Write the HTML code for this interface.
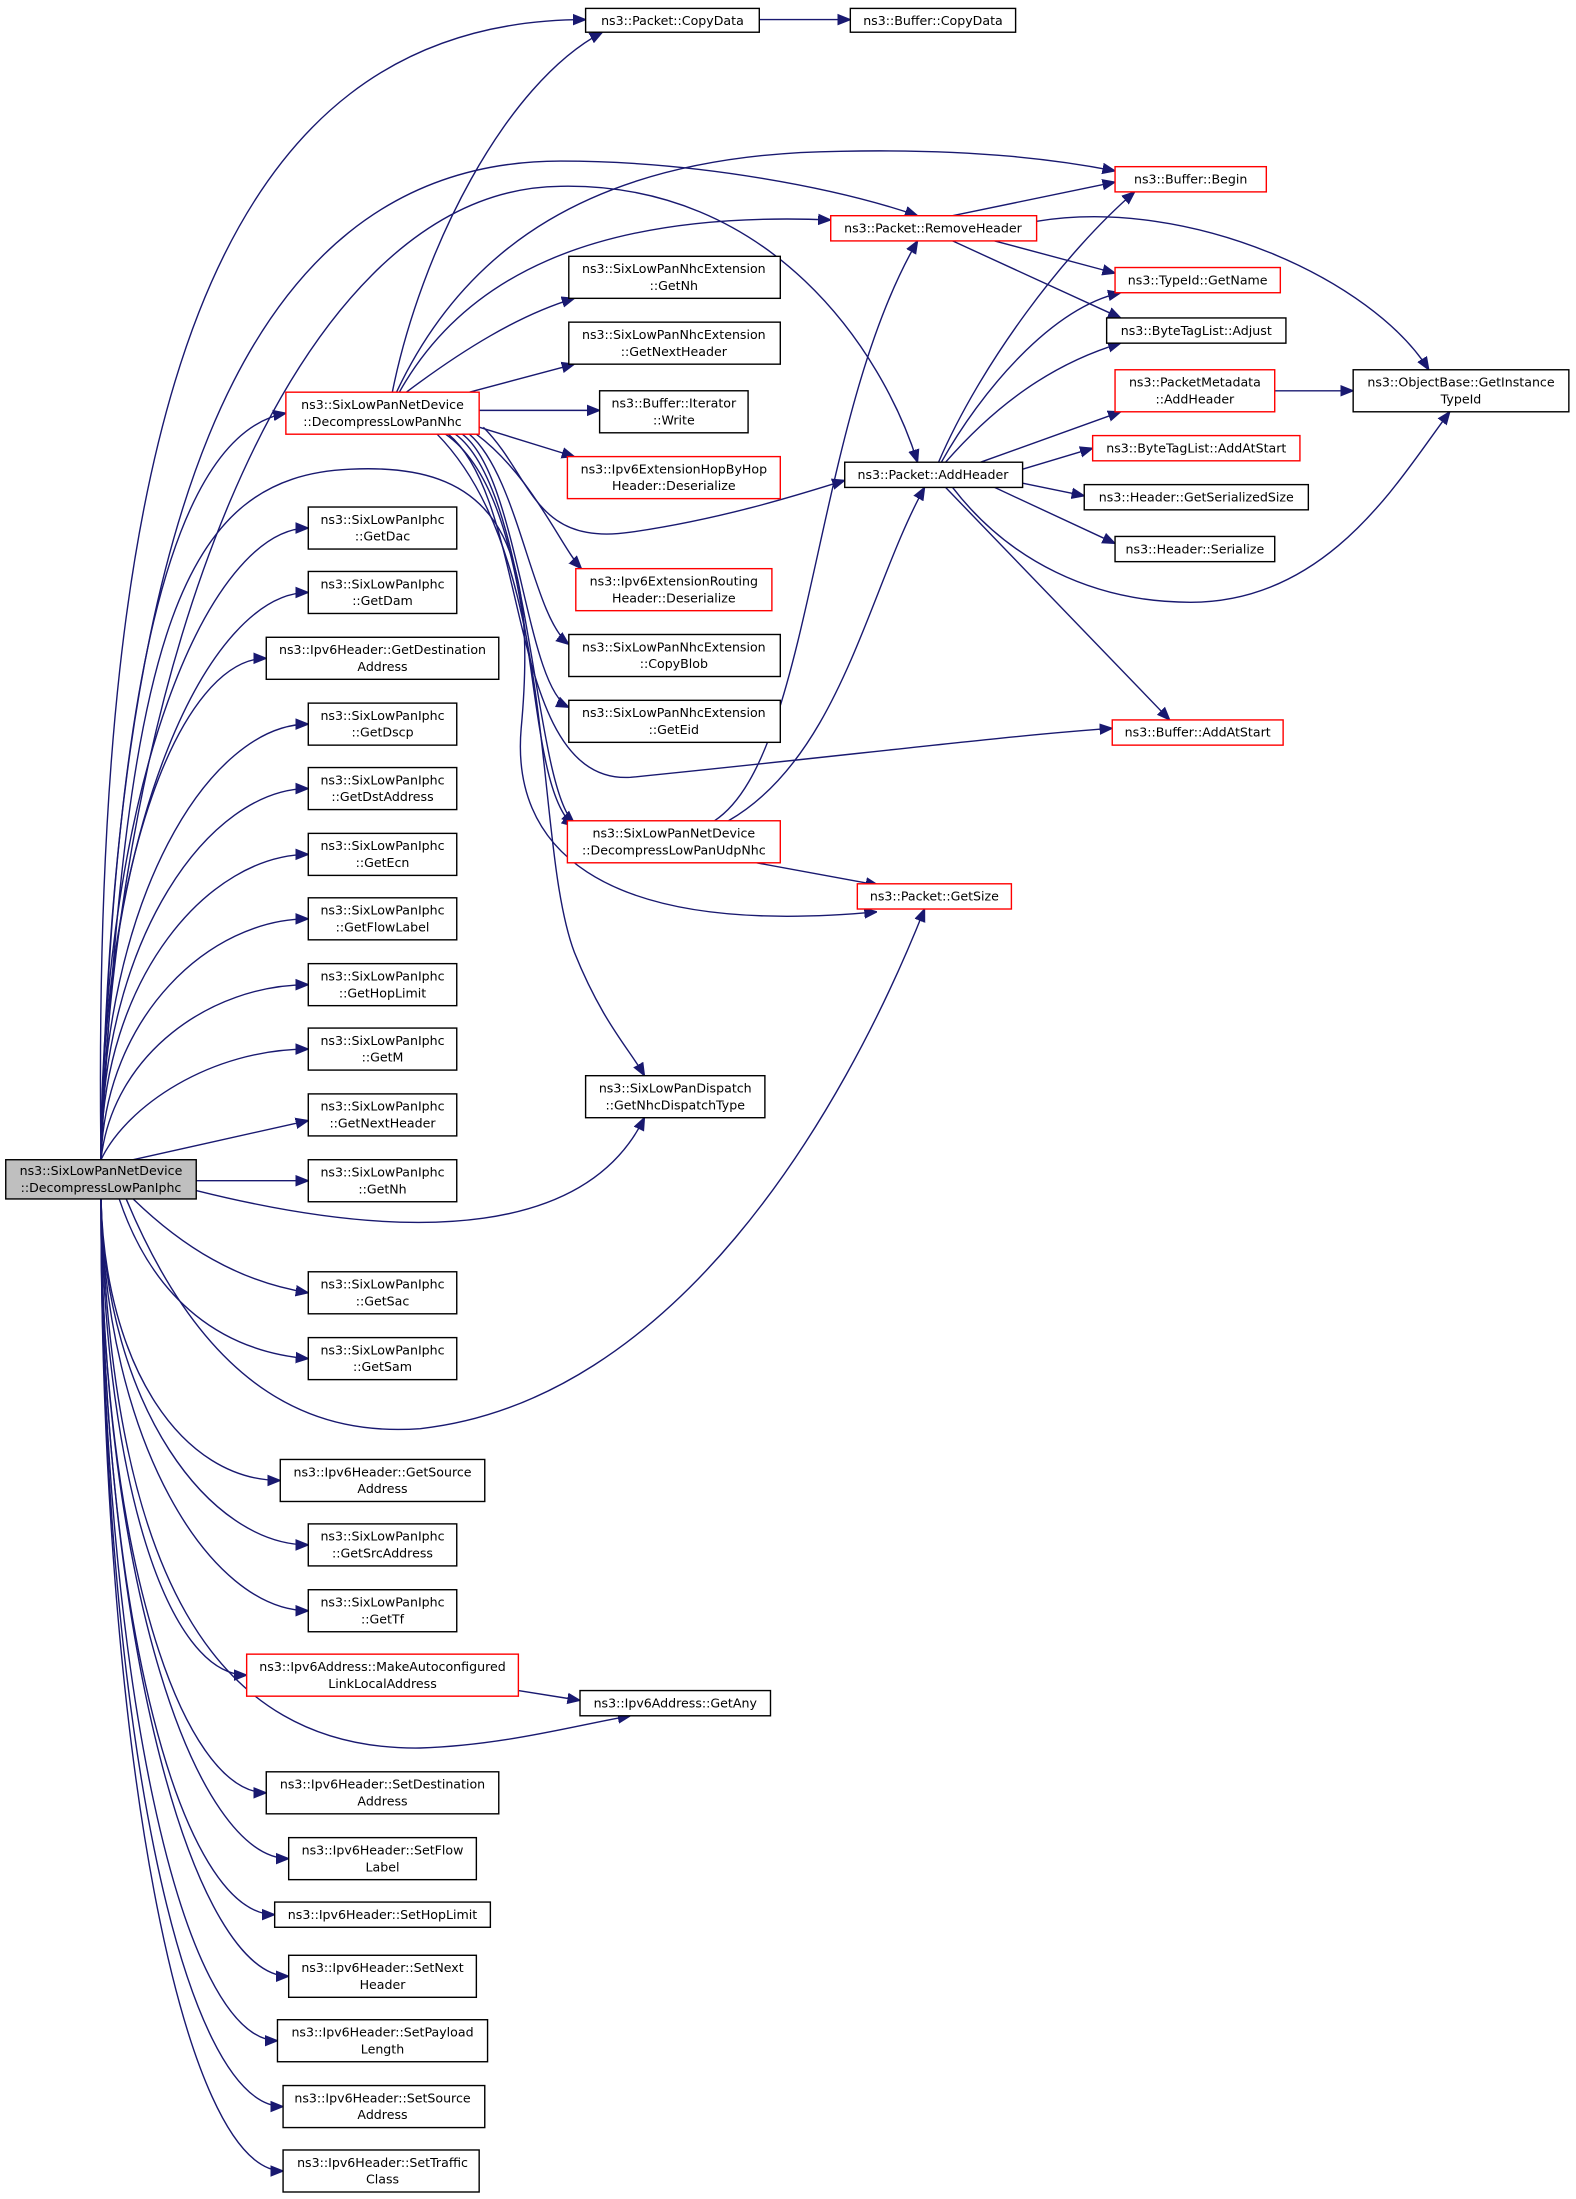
<!DOCTYPE html>
<html><head><meta charset="utf-8"><style>
html,body{margin:0;padding:0;background:#fff}
svg{display:block}
text{font-family:"DejaVu Sans","Liberation Sans",sans-serif;font-size:9px;fill:#000;text-anchor:middle}
.b{fill:#fff;stroke:#000;stroke-width:1}
.r{fill:#fff;stroke:#ff0000;stroke-width:1}
.g{fill:#bfbfbf;stroke:#000;stroke-width:1}
path{fill:none;stroke:#191970;stroke-width:1}
</style></head><body>
<svg width="1576" height="2199" viewBox="0 0 1125 1570" xmlns="http://www.w3.org/2000/svg">
<defs><marker id="a" viewBox="0 0 10 10" refX="10" refY="5" markerWidth="9" markerHeight="9" markerUnits="userSpaceOnUse" orient="auto"><path d="M0,1 L10,5 L0,9 z" style="fill:#191970;stroke:#191970"/></marker></defs>
<g marker-end="url(#a)">
<!-- main edges -->
<path d="M72,828 C65,300 150,14 418,14"/>
<path d="M72,828 C80,400 160,115 400,115 C500,115 600,135 655,154"/>
<path d="M72,828 C80,500 200,135 400,133 C550,130 630,250 655,330"/>
<path d="M72,828 C80,500 120,310 204,295"/>
<path d="M72,828 C90,450 130,340 250,335 C350,330 385,380 372,520 C365,600 420,670 626,651"/>
<path d="M140,850 C300,890 420,880 460,798"/>
<path d="M90,856 C150,1000 230,1025 300,1020 C480,1000 600,800 660,649"/>
<path d="M72,828 C72,557 150,377 220,377"/>
<path d="M72,828 C72,585 150,423 220,423"/>
<path d="M72,828 C72,613 130,470 190,470"/>
<path d="M72,828 C72,641 150,517 220,517"/>
<path d="M72,828 C72,669 150,563 220,563"/>
<path d="M72,828 C72,697 150,610 220,610"/>
<path d="M72,828 C75,725 150,656 220,656"/>
<path d="M72,828 C80,753 150,703 220,703"/>
<path d="M72,828 C90,790 150,749 220,749"/>
<path d="M95,828 L220,800"/>
<path d="M140,843 L220,843"/>
<path d="M95,856 C130,890 170,915 220,923"/>
<path d="M85,856 C110,930 160,965 220,970"/>
<path d="M72,856 C75,976 130,1057 200,1057"/>
<path d="M72,856 C75,1005 150,1103 220,1103"/>
<path d="M72,856 C75,1030 150,1150 220,1150"/>
<path d="M72,856 C75,1060 120,1196 176,1196"/>
<path d="M72,856 C80,1120 150,1250 300,1248 C360,1246 410,1232 450,1225"/>
<path d="M72,856 C72,1110 130,1280 190,1280"/>
<path d="M72,856 C72,1130 140,1327 206,1327"/>
<path d="M72,856 C72,1160 130,1367 196,1367"/>
<path d="M72,856 C72,1180 140,1411 206,1411"/>
<path d="M72,856 C72,1200 130,1457 198,1457"/>
<path d="M72,856 C72,1230 130,1504 202,1504"/>
<path d="M72,856 C72,1250 130,1550 202,1550"/>
<path d="M370,1207 L414,1214"/>
<!-- DecompressLowPanNhc edges -->
<path d="M280,280 C300,180 360,60 430,23"/>
<path d="M285,280 C330,200 420,150 593,157"/>
<path d="M283,280 C330,180 420,110 600,108 C700,106 760,115 796,122"/>
<path d="M290,280 C330,250 370,225 410,213"/>
<path d="M335,280 L410,260"/>
<path d="M342,293 L428,293"/>
<path d="M342,305 L410,326"/>
<path d="M340,310 C380,340 400,390 415,406"/>
<path d="M335,310 C370,340 380,440 406,460"/>
<path d="M330,310 C370,340 375,490 406,505"/>
<path d="M325,310 C380,350 380,560 410,588"/>
<path d="M318,310 C390,360 370,560 410,590"/>
<path d="M345,305 C380,340 380,390 450,380 C520,370 580,350 603,343"/>
<path d="M320,310 C380,360 360,560 450,555 C600,540 720,525 794,520"/>
<path d="M312,310 C400,400 380,600 410,680 C430,730 450,750 460,768"/>
<!-- UdpNhc edges -->
<path d="M510,586 C580,540 580,300 655,172"/>
<path d="M520,586 C600,540 620,420 660,348"/>
<path d="M540,616 L627,632"/>
<!-- RemoveHeader -->
<path d="M680,154 L796,130"/>
<path d="M710,172 L796,195"/>
<path d="M680,172 L800,227"/>
<path d="M740,158 C850,140 980,200 1020,264"/>
<!-- AddHeader -->
<path d="M670,330 C700,260 760,180 810,137"/>
<path d="M672,330 C700,280 750,220 800,209"/>
<path d="M675,330 C710,290 750,260 800,245"/>
<path d="M700,330 L800,294"/>
<path d="M730,335 L780,320"/>
<path d="M730,345 L774,354"/>
<path d="M710,348 L796,388"/>
<path d="M680,348 C720,400 780,430 850,430 C950,430 1000,340 1035,294"/>
<path d="M675,348 L835,514"/>
<path d="M910,279 L966,279"/>
<path d="M542,14 L607,14"/>
</g>
<!-- nodes -->
<rect class="g" x="4" y="828" width="136" height="28"/><text x="72" y="839">ns3::SixLowPanNetDevice</text><text x="72" y="851">::DecompressLowPanIphc</text>
<rect class="r" x="204" y="280" width="138" height="30"/><text x="273" y="292">ns3::SixLowPanNetDevice</text><text x="273" y="304">::DecompressLowPanNhc</text>
<g>
<rect class="b" x="220" y="362" width="106" height="30"/><text x="273" y="374">ns3::SixLowPanIphc</text><text x="273" y="386">::GetDac</text>
<rect class="b" x="220" y="408" width="106" height="30"/><text x="273" y="420">ns3::SixLowPanIphc</text><text x="273" y="432">::GetDam</text>
<rect class="b" x="190" y="455" width="166" height="30"/><text x="273" y="467">ns3::Ipv6Header::GetDestination</text><text x="273" y="479">Address</text>
<rect class="b" x="220" y="502" width="106" height="30"/><text x="273" y="514">ns3::SixLowPanIphc</text><text x="273" y="526">::GetDscp</text>
<rect class="b" x="220" y="548" width="106" height="30"/><text x="273" y="560">ns3::SixLowPanIphc</text><text x="273" y="572">::GetDstAddress</text>
<rect class="b" x="220" y="595" width="106" height="30"/><text x="273" y="607">ns3::SixLowPanIphc</text><text x="273" y="619">::GetEcn</text>
<rect class="b" x="220" y="641" width="106" height="30"/><text x="273" y="653">ns3::SixLowPanIphc</text><text x="273" y="665">::GetFlowLabel</text>
<rect class="b" x="220" y="688" width="106" height="30"/><text x="273" y="700">ns3::SixLowPanIphc</text><text x="273" y="712">::GetHopLimit</text>
<rect class="b" x="220" y="734" width="106" height="30"/><text x="273" y="746">ns3::SixLowPanIphc</text><text x="273" y="758">::GetM</text>
<rect class="b" x="220" y="781" width="106" height="30"/><text x="273" y="793">ns3::SixLowPanIphc</text><text x="273" y="805">::GetNextHeader</text>
<rect class="b" x="220" y="828" width="106" height="30"/><text x="273" y="840">ns3::SixLowPanIphc</text><text x="273" y="852">::GetNh</text>
<rect class="b" x="220" y="908" width="106" height="30"/><text x="273" y="920">ns3::SixLowPanIphc</text><text x="273" y="932">::GetSac</text>
<rect class="b" x="220" y="955" width="106" height="30"/><text x="273" y="967">ns3::SixLowPanIphc</text><text x="273" y="979">::GetSam</text>
<rect class="b" x="200" y="1042" width="146" height="30"/><text x="273" y="1054">ns3::Ipv6Header::GetSource</text><text x="273" y="1066">Address</text>
<rect class="b" x="220" y="1088" width="106" height="30"/><text x="273" y="1100">ns3::SixLowPanIphc</text><text x="273" y="1112">::GetSrcAddress</text>
<rect class="b" x="220" y="1135" width="106" height="30"/><text x="273" y="1147">ns3::SixLowPanIphc</text><text x="273" y="1159">::GetTf</text>
<rect class="r" x="176" y="1181" width="194" height="30"/><text x="273" y="1193">ns3::Ipv6Address::MakeAutoconfigured</text><text x="273" y="1205">LinkLocalAddress</text>
<rect class="b" x="190" y="1265" width="166" height="30"/><text x="273" y="1277">ns3::Ipv6Header::SetDestination</text><text x="273" y="1289">Address</text>
<rect class="b" x="206" y="1312" width="134" height="30"/><text x="273" y="1324">ns3::Ipv6Header::SetFlow</text><text x="273" y="1336">Label</text>
<rect class="b" x="196" y="1358" width="154" height="18"/><text x="273" y="1370">ns3::Ipv6Header::SetHopLimit</text>
<rect class="b" x="206" y="1396" width="134" height="30"/><text x="273" y="1408">ns3::Ipv6Header::SetNext</text><text x="273" y="1420">Header</text>
<rect class="b" x="198" y="1442" width="150" height="30"/><text x="273" y="1454">ns3::Ipv6Header::SetPayload</text><text x="273" y="1466">Length</text>
<rect class="b" x="202" y="1489" width="144" height="30"/><text x="273" y="1501">ns3::Ipv6Header::SetSource</text><text x="273" y="1513">Address</text>
<rect class="b" x="202" y="1535" width="140" height="30"/><text x="273" y="1547">ns3::Ipv6Header::SetTraffic</text><text x="273" y="1559">Class</text>
</g>
<g>
<rect class="b" x="418" y="6" width="124" height="17"/><text x="480" y="18">ns3::Packet::CopyData</text>
<rect class="b" x="406" y="183" width="151" height="30"/><text x="481" y="195">ns3::SixLowPanNhcExtension</text><text x="481" y="207">::GetNh</text>
<rect class="b" x="406" y="230" width="151" height="30"/><text x="481" y="242">ns3::SixLowPanNhcExtension</text><text x="481" y="254">::GetNextHeader</text>
<rect class="b" x="428" y="279" width="106" height="30"/><text x="481" y="291">ns3::Buffer::Iterator</text><text x="481" y="303">::Write</text>
<rect class="r" x="405" y="326" width="152" height="30"/><text x="481" y="338">ns3::Ipv6ExtensionHopByHop</text><text x="481" y="350">Header::Deserialize</text>
<rect class="r" x="411" y="406" width="140" height="30"/><text x="481" y="418">ns3::Ipv6ExtensionRouting</text><text x="481" y="430">Header::Deserialize</text>
<rect class="b" x="406" y="453" width="151" height="30"/><text x="481" y="465">ns3::SixLowPanNhcExtension</text><text x="481" y="477">::CopyBlob</text>
<rect class="b" x="406" y="500" width="151" height="30"/><text x="481" y="512">ns3::SixLowPanNhcExtension</text><text x="481" y="524">::GetEid</text>
<rect class="r" x="405" y="586" width="152" height="30"/><text x="481" y="598">ns3::SixLowPanNetDevice</text><text x="481" y="610">::DecompressLowPanUdpNhc</text>
<rect class="b" x="418" y="768" width="128" height="30"/><text x="482" y="780">ns3::SixLowPanDispatch</text><text x="482" y="792">::GetNhcDispatchType</text>
<rect class="b" x="414" y="1207" width="136" height="18"/><text x="482" y="1219">ns3::Ipv6Address::GetAny</text>
</g>
<g>
<rect class="b" x="607" y="6" width="118" height="17"/><text x="666" y="18">ns3::Buffer::CopyData</text>
<rect class="r" x="593" y="154" width="147" height="18"/><text x="666" y="166">ns3::Packet::RemoveHeader</text>
<rect class="b" x="603" y="330" width="127" height="18"/><text x="666" y="342">ns3::Packet::AddHeader</text>
<rect class="r" x="612" y="631" width="110" height="18"/><text x="667" y="643">ns3::Packet::GetSize</text>
<rect class="r" x="796" y="119" width="108" height="18"/><text x="850" y="131">ns3::Buffer::Begin</text>
<rect class="r" x="796" y="191" width="118" height="18"/><text x="855" y="203">ns3::TypeId::GetName</text>
<rect class="b" x="790" y="227" width="128" height="18"/><text x="854" y="239">ns3::ByteTagList::Adjust</text>
<rect class="r" x="796" y="264" width="114" height="30"/><text x="853" y="276">ns3::PacketMetadata</text><text x="853" y="288">::AddHeader</text>
<rect class="r" x="780" y="311" width="148" height="18"/><text x="854" y="323">ns3::ByteTagList::AddAtStart</text>
<rect class="b" x="774" y="346" width="160" height="18"/><text x="854" y="358">ns3::Header::GetSerializedSize</text>
<rect class="b" x="796" y="383" width="114" height="18"/><text x="853" y="395">ns3::Header::Serialize</text>
<rect class="r" x="794" y="514" width="122" height="18"/><text x="855" y="526">ns3::Buffer::AddAtStart</text>
<rect class="b" x="966" y="264" width="154" height="30"/><text x="1043" y="276">ns3::ObjectBase::GetInstance</text><text x="1043" y="288">TypeId</text>
</g>
</svg>
</body></html>
